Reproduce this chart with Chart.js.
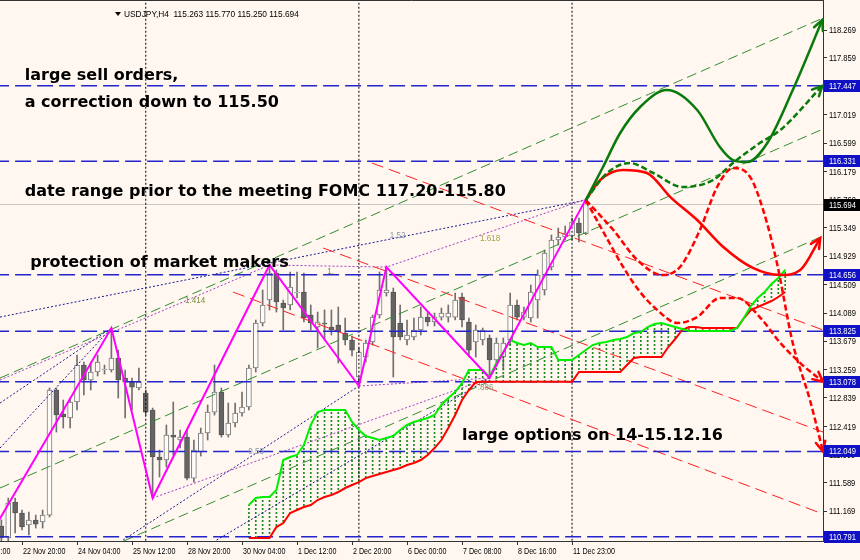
<!DOCTYPE html>
<html>
<head>
<meta charset="utf-8">
<script src="https://cdn.jsdelivr.net/npm/chart.js@4.4.0/dist/chart.umd.min.js"></script>
<style>
  html, body { margin: 0; padding: 0; background: #fff7f0; }
  #wrap { width: 860px; height: 560px; }
</style>
</head>
<body>
<div id="wrap"><canvas id="chart" width="860" height="560"></canvas></div>
<script>
// H4 candles, bar index 0 .. 85 (last bar = 115.263 115.770 115.250 115.694)
const candleOpen = [110.949, 110.772, 111.303, 111.141, 110.964, 111.038, 111.008, 111.111, 112.956, 112.602,
  112.543, 112.779, 113.325, 113.104, 113.222, 113.251, 113.251, 113.428, 113.133, 113.074,
  112.986, 112.912, 112.661, 111.967, 111.923, 112.292, 112.218, 112.262, 111.657, 112.041,
  112.322, 112.631, 112.927, 112.292, 112.469, 112.617, 112.705, 113.281, 113.945, 114.284,
  114.683, 114.240, 114.211, 114.388, 114.402, 114.063, 113.886, 113.945, 113.886, 113.915,
  113.797, 113.694, 113.148, 113.443, 113.665, 114.063, 114.388, 114.402, 113.945, 113.694,
  113.738, 113.842, 114.033, 113.960, 114.033, 114.033, 114.033, 114.329, 113.960, 113.665,
  113.694, 113.724, 113.399, 113.443, 113.694, 114.211, 114.033, 114.019, 114.284, 114.432,
  114.771, 115.170, 115.214, 115.229, 115.421, 115.263];
const candleHigh = [111.038, 111.362, 111.362, 111.185, 111.156, 111.111, 111.185, 112.986, 112.986, 112.809,
  112.838, 113.473, 113.369, 113.369, 113.473, 113.325, 113.871, 113.546, 113.251, 113.133,
  113.281, 112.956, 112.690, 112.071, 112.440, 112.779, 112.366, 112.366, 112.218, 112.395,
  112.735, 113.325, 112.986, 112.764, 112.764, 112.927, 113.325, 113.989, 114.432, 114.801,
  114.727, 114.284, 114.698, 114.698, 114.683, 114.211, 114.107, 114.137, 114.137, 114.181,
  114.019, 113.753, 113.576, 113.694, 114.063, 114.698, 114.771, 114.461, 114.211, 113.989,
  114.019, 114.181, 114.107, 114.092, 114.166, 114.211, 114.388, 114.388, 114.019, 113.915,
  113.871, 113.768, 113.724, 113.724, 114.388, 114.284, 114.181, 114.506, 114.727, 115.022,
  115.244, 115.347, 115.376, 115.494, 115.494, 115.770];
const candleLow = [110.669, 110.713, 110.846, 110.890, 110.816, 110.919, 110.919, 111.082, 112.336, 112.395,
  112.395, 112.661, 112.882, 112.956, 113.163, 113.192, 113.222, 112.838, 112.543, 112.661,
  112.956, 112.587, 111.362, 111.672, 111.820, 111.997, 112.100, 111.628, 111.598, 111.982,
  112.218, 112.587, 112.262, 112.262, 112.410, 112.572, 112.661, 113.222, 113.901, 114.137,
  114.107, 113.842, 114.137, 114.314, 113.960, 113.842, 113.576, 113.694, 113.768, 113.355,
  113.620, 113.458, 113.015, 113.369, 113.620, 114.019, 114.343, 113.148, 113.694, 113.620,
  113.694, 113.768, 113.901, 113.901, 113.989, 113.960, 113.989, 113.886, 113.443, 113.443,
  113.620, 113.133, 113.325, 113.251, 113.620, 113.989, 113.989, 113.960, 114.019, 114.358,
  114.727, 115.096, 115.170, 115.170, 115.140, 115.250];
const candleClose = [110.772, 111.288, 111.141, 110.934, 111.038, 110.978, 111.111, 112.956, 112.587, 112.558,
  112.779, 113.325, 113.104, 113.222, 113.369, 113.266, 113.428, 113.104, 113.074, 113.000,
  113.074, 112.631, 111.967, 111.923, 112.292, 112.262, 112.262, 111.657, 112.071, 112.322,
  112.631, 112.927, 112.292, 112.469, 112.617, 112.705, 113.281, 113.945, 114.211, 114.683,
  114.255, 114.166, 114.476, 114.402, 114.019, 113.945, 113.960, 113.930, 113.842, 113.812,
  113.694, 113.546, 113.517, 113.650, 114.033, 114.432, 114.432, 113.738, 113.738, 113.768,
  113.842, 114.033, 113.960, 114.033, 114.092, 114.092, 114.284, 113.989, 113.546, 113.842,
  113.842, 113.399, 113.650, 113.650, 114.211, 114.033, 114.107, 114.402, 114.653, 114.978,
  115.170, 115.214, 115.273, 115.435, 115.273, 115.694];

// time axis (bar index of each label)
const timeTickIdx = [-5, 3, 11, 19, 27, 35, 43, 51, 59, 67, 75, 83];
const timeTickLabels = ['21 Nov 12:00', '22 Nov 20:00', '24 Nov 04:00', '25 Nov 12:00', '28 Nov 20:00',
  '30 Nov 04:00', '1 Dec 12:00', '2 Dec 20:00', '6 Dec 00:00', '7 Dec 08:00', '8 Dec 16:00', '11 Dec 23:00'];
const separatorIdx = [21, 52, 83];

// price axis
const priceTicks = [118.269, 117.859, 117.439, 117.019, 116.599, 116.179, 115.769, 115.349, 114.929,
  114.509, 114.089, 113.679, 113.259, 112.839, 112.419, 111.999, 111.589, 111.169, 110.749];
const levelPrices = [117.447, 116.331, 114.656, 113.825, 113.078, 112.049, 110.791];
const lastPrice = 115.694;

// zigzag
const zigzagIdx = [-1, 16, 22, 39, 52, 56, 71, 85];
const zigzagPrice = [110.920, 113.871, 111.362, 114.801, 113.015, 114.771, 113.133, 115.770];

// ichimoku cloud, shifted forward
const cloudIdx = [36, 37, 38, 39, 40, 41, 42, 43, 44, 45, 46, 47, 48, 49, 50, 51, 52, 53, 54, 55,
  56, 57, 58, 59, 60, 61, 62, 63, 64, 65, 66, 67, 68, 69, 70, 71, 72, 73, 74, 75,
  76, 77, 78, 79, 80, 81, 82, 83, 84, 85, 86, 87, 88, 89, 90, 91, 92, 93, 94, 95,
  96, 97, 98, 99, 100, 101, 102, 103, 104, 105, 106, 107, 108, 109, 110, 111, 112, 113, 114];
const spanA = [111.259, 111.362, 111.377, 111.377, 111.480, 111.923, 111.967, 111.997, 112.144, 112.440,
  112.631, 112.661, 112.661, 112.661, 112.661, 112.484, 112.366, 112.277, 112.248, 112.218,
  112.248, 112.277, 112.366, 112.440, 112.484, 112.513, 112.543, 112.587, 112.735, 112.838,
  112.927, 113.059, 113.251, 113.251, 113.251, 113.148, 113.355, 113.517, 113.694, 113.650,
  113.620, 113.650, 113.591, 113.591, 113.591, 113.399, 113.399, 113.399, 113.473, 113.546,
  113.620, 113.650, 113.665, 113.694, 113.709, 113.738, 113.797, 113.812, 113.886, 113.930,
  113.945, 113.915, 113.886, 113.856, 113.827, 113.827, 113.827, 113.827, 113.827, 113.827,
  113.827, 113.871, 114.019, 114.196, 114.314, 114.402, 114.520, 114.609, 114.727];
const spanB = [110.772, 110.772, 110.772, 110.772, 110.934, 110.993, 111.141, 111.185, 111.229, 111.259,
  111.333, 111.377, 111.406, 111.451, 111.510, 111.554, 111.598, 111.657, 111.687, 111.716,
  111.746, 111.775, 111.805, 111.849, 111.879, 111.923, 111.997, 112.100, 112.218, 112.395,
  112.587, 112.809, 112.956, 113.074, 113.078, 113.078, 113.078, 113.078, 113.078, 113.078,
  113.078, 113.078, 113.078, 113.078, 113.078, 113.078, 113.078, 113.078, 113.222, 113.222,
  113.222, 113.222, 113.222, 113.222, 113.222, 113.325, 113.428, 113.443, 113.443, 113.443,
  113.443, 113.591, 113.709, 113.842, 113.886, 113.886, 113.871, 113.871, 113.871, 113.871,
  113.871, 113.871, 114.019, 114.137, 114.181, 114.225, 114.270, 114.329, 114.402];

// trend channels: [start idx, end idx], [start price, end price]
const greenChanIdx = [[-0.2, 119.5], [-0.2, 119.5], [-0.2, 119.5]];
const greenChanPrice = [[113.133, 118.446], [111.510, 116.808], [109.931, 115.229]];
const redChanIdx = [[53.9, 119.5], [46.8, 119.5], [33.7, 119.5]];
const redChanPrice = [[116.306, 113.842], [115.052, 112.336], [114.402, 111.126]];
const fibPurpleIdx = [[-0.2, 39, 56, 85], [22, 71], [52, 71]];
const fibPurplePrice = [[113.104, 114.801, 114.771, 115.770], [111.362, 113.133], [113.015, 113.133]];
const fibNavyIdx = [[-0.2, 85], [-0.2, 16], [-0.2, 16], [17.7, 52], [31.3, 71]];
const fibNavyPrice = [[114.033, 115.760], [112.764, 113.871], [112.100, 113.871], [110.742, 113.015], [110.742, 113.133]];

// forecast paths
const upSolidIdx = [85, 87.5, 90.0, 92.9, 96.8, 101.2, 104.5, 106.4, 108.5, 111.4, 115.1, 119.4];
const upSolidPrice = [115.760, 116.247, 116.749, 117.133, 117.383, 117.088, 116.542, 116.350, 116.321, 116.601, 117.383, 118.417];
const upDashIdx = [85, 88.1, 91.4, 94.8, 99.1, 103.5, 106.4, 110.3, 113.3, 119.4];
const upDashPrice = [115.760, 116.159, 116.306, 116.159, 115.952, 116.055, 116.306, 116.601, 116.793, 117.447];
const downSolidIdx = [85, 87.1, 90.4, 93.9, 97.3, 101.2, 105.0, 109.3, 113.3, 116.2, 119.1];
const downSolidPrice = [115.760, 116.055, 116.203, 116.159, 115.804, 115.465, 115.066, 114.757, 114.653, 114.727, 115.199];
const downDashAIdx = [85, 87.8, 90.7, 92.9, 95.4, 98.3, 101.2, 104.5, 107.0, 110.3, 113.3, 116.2, 119.5];
const downDashAPrice = [115.760, 115.244, 114.727, 114.402, 114.137, 113.945, 114.033, 114.314, 114.314, 114.033, 113.650, 113.354, 113.078];
const downDashBIdx = [85, 89.0, 92.5, 96.2, 98.7, 101.6, 104.1, 106.4, 108.9, 110.8, 112.8, 115.1, 117.6, 119.5];
const downDashBPrice = [115.760, 115.317, 114.874, 114.653, 114.771, 115.317, 115.952, 116.232, 116.100, 115.612, 114.830, 113.650, 112.809, 112.049];

// chart notes
const noteText = ['large sell orders,', 'a correction down to 115.50',
  'date range prior to the meeting FOMC 117.20-115.80', 'protection of market makers', 'large options on 14-15.12.16'];
const noteIdx = [3.4, 3.4, 3.4, 4.2, 67.0];
const notePrice = [117.590, 117.192, 115.878, 114.830, 112.277];
const fibText = ['1.414', '1.', '1.52', '1.618', '.886', '0.53'];
const fibIdx = [26.7, 47.4, 56.5, 69.6, 69.3, 35.9];
const fibPrice = [114.284, 114.712, 115.244, 115.199, 113.000, 112.056];
const fibColors = ['#7b8a3a', '#7b8a3a', '#8a98a8', '#a8a24a', '#8a9a7a', '#8a98a8'];

const priceMin = 110.728, priceMax = 118.712;
const idxMin = -0.2, idxMax = 119.5;
const axisFont = '9.5px "Liberation Sans", Arial, sans-serif';

const canvas = document.getElementById('chart');
const ctx = canvas.getContext('2d');

function dotPattern(color) {
  const c = document.createElement('canvas');
  c.width = 1; c.height = 4;
  const g = c.getContext('2d');
  g.fillStyle = color;
  g.fillRect(0, 0, 1, 2);
  return ctx.createPattern(c, 'repeat');
}

function lineSet(xs, ys, color, width, dash, order) {
  return {
    type: 'line',
    data: xs.map((x, i) => ({ x: x, y: ys[i] })),
    borderColor: color,
    borderWidth: width,
    borderDash: dash,
    pointRadius: 0,
    tension: 0,
    fill: false,
    order: order
  };
}

function curveSet(xs, ys, color, dash) {
  const ds = lineSet(xs, ys, color, 2.5, dash, 1);
  ds.cubicInterpolationMode = 'monotone';
  ds.arrowHead = true;
  return ds;
}

// squeezed text, close to the narrow terminal font
function narrowText(c, text, x, y, squeeze) {
  c.save();
  c.translate(x, y);
  c.scale(squeeze, 1);
  c.fillText(text, 0, 0);
  c.restore();
}

const datasets = [];

// candles
datasets.push({
  type: 'bar',
  data: candleOpen.map((o, i) => ({ x: i, y: [candleLow[i], candleHigh[i]] })),
  backgroundColor: '#707070',
  barThickness: 1,
  grouped: false,
  order: 21
});
datasets.push({
  type: 'bar',
  data: candleOpen.map((o, i) => ({ x: i, y: [o, candleClose[i]] })),
  backgroundColor: candleOpen.map((o, i) => candleClose[i] >= o ? '#fffcf8' : '#646464'),
  borderColor: candleOpen.map((o, i) => candleClose[i] >= o ? '#7a7a7a' : '#555555'),
  borderWidth: 1,
  borderSkipped: false,
  barThickness: 5,
  grouped: false,
  order: 20
});

// cloud hatching + spans
const greenDots = dotPattern('#1a8a1a');
const redDots = dotPattern('#d03030');
datasets.push({
  type: 'bar',
  data: cloudIdx.map((x, i) => ({ x: x, y: [spanB[i], spanA[i]] })),
  backgroundColor: cloudIdx.map((x, i) => spanA[i] >= spanB[i] ? greenDots : redDots),
  barThickness: 1,
  grouped: false,
  order: 15
});
datasets.push(lineSet(cloudIdx, spanA, '#00ee00', 2, [], 6));
datasets.push(lineSet(cloudIdx, spanB, '#ff0000', 2, [], 6));

// period separators
separatorIdx.forEach(s => {
  datasets.push(lineSet([s, s], [priceMin - 1, priceMax + 1], '#000000', 1, [2, 2], 12));
});

// levels
levelPrices.forEach(v => {
  datasets.push(lineSet([idxMin - 1, idxMax + 1], [v, v], '#2424cc', 1.5, [16, 6], 8));
});
datasets.push(lineSet([idxMin - 1, idxMax + 1], [lastPrice, lastPrice], '#c8c8c8', 1, [], 13));

// channels and fib lines
greenChanIdx.forEach((xs, k) => datasets.push(lineSet(xs, greenChanPrice[k], '#2f8f2f', 1, [10, 5], 10)));
redChanIdx.forEach((xs, k) => datasets.push(lineSet(xs, redChanPrice[k], '#ff2020', 1, [12, 6], 10)));
fibPurpleIdx.forEach((xs, k) => datasets.push(lineSet(xs, fibPurplePrice[k], '#a040c0', 1, [2, 2], 11)));
fibNavyIdx.forEach((xs, k) => datasets.push(lineSet(xs, fibNavyPrice[k], '#1a1a90', 1, [2, 2], 11)));

// zigzag
datasets.push(lineSet(zigzagIdx, zigzagPrice, '#ff00ff', 2, [], 4));

// forecasts
datasets.push(curveSet(upSolidIdx, upSolidPrice, '#0a7a0a', []));
datasets.push(curveSet(upDashIdx, upDashPrice, '#0a7a0a', [6, 3]));
datasets.push(curveSet(downSolidIdx, downSolidPrice, '#ff0000', []));
datasets.push(curveSet(downDashAIdx, downDashAPrice, '#ff0000', [6, 3]));
datasets.push(curveSet(downDashBIdx, downDashBPrice, '#ff0000', [6, 3]));

const backdrop = {
  id: 'backdrop',
  beforeDraw(chart) {
    const c = chart.ctx;
    c.save();
    c.fillStyle = '#fff7f0';
    c.fillRect(0, 0, chart.width, chart.height);
    c.restore();
  }
};

const arrowHeads = {
  id: 'arrowHeads',
  afterDatasetsDraw(chart) {
    const c = chart.ctx;
    chart.data.datasets.forEach((ds, i) => {
      if (!ds.arrowHead) return;
      const pts = chart.getDatasetMeta(i).data;
      const end = pts[pts.length - 1];
      let dx = end.x - (end.cp1x !== undefined ? end.cp1x : pts[pts.length - 2].x);
      let dy = end.y - (end.cp1y !== undefined ? end.cp1y : pts[pts.length - 2].y);
      if (Math.abs(dx) + Math.abs(dy) < 0.01) {
        dx = end.x - pts[pts.length - 2].x;
        dy = end.y - pts[pts.length - 2].y;
      }
      const a = Math.atan2(dy, dx);
      const len = 11, spread = 0.45;
      c.save();
      c.strokeStyle = ds.borderColor;
      c.lineWidth = 2.5;
      c.lineCap = 'round';
      c.beginPath();
      c.moveTo(end.x - len * Math.cos(a - spread), end.y - len * Math.sin(a - spread));
      c.lineTo(end.x, end.y);
      c.lineTo(end.x - len * Math.cos(a + spread), end.y - len * Math.sin(a + spread));
      c.stroke();
      c.restore();
    });
  }
};

const notes = {
  id: 'notes',
  afterDatasetsDraw(chart) {
    const c = chart.ctx;
    const xs = chart.scales.x, ys = chart.scales.y;
    c.save();
    c.textAlign = 'left';
    c.textBaseline = 'middle';
    c.fillStyle = '#000000';
    c.font = 'bold 16px "DejaVu Sans", sans-serif';
    noteText.forEach((t, i) => {
      c.fillText(t, xs.getPixelForValue(noteIdx[i]), ys.getPixelForValue(notePrice[i]));
    });
    c.font = axisFont;
    fibText.forEach((t, i) => {
      c.fillStyle = fibColors[i];
      narrowText(c, t, xs.getPixelForValue(fibIdx[i]), ys.getPixelForValue(fibPrice[i]), 0.85);
    });
    c.restore();
  }
};

const axisText = {
  id: 'axisText',
  afterDraw(chart) {
    const c = chart.ctx;
    const xs = chart.scales.x, ys = chart.scales.y;
    const area = chart.chartArea;
    c.save();
    // frame top edge
    c.strokeStyle = '#333333';
    c.lineWidth = 1;
    c.beginPath();
    c.moveTo(0, area.top + 0.5);
    c.lineTo(area.right, area.top + 0.5);
    c.stroke();

    c.font = axisFont;
    c.textBaseline = 'middle';
    c.textAlign = 'left';
    c.fillStyle = '#000000';
    timeTickIdx.forEach((v, i) => {
      narrowText(c, timeTickLabels[i], xs.getPixelForValue(v) + 1, area.bottom + 10.5, 0.75);
    });
    priceTicks.forEach(v => {
      narrowText(c, v.toFixed(3), area.right + 6, ys.getPixelForValue(v) + 0.5, 0.8);
    });

    const left = area.right + 1;
    const box = (v, bg) => {
      const y = Math.round(ys.getPixelForValue(v));
      c.fillStyle = bg;
      c.fillRect(left, y - 6, chart.width - left, 12);
      c.fillStyle = '#ffffff';
      narrowText(c, v.toFixed(3), left + 5, y + 0.5, 0.8);
    };
    levelPrices.forEach(v => box(v, '#1010c4'));
    box(lastPrice, '#000000');

    // symbol header
    const hx = 115, hy = 14;
    c.fillStyle = '#000000';
    c.beginPath();
    c.moveTo(hx, hy - 2); c.lineTo(hx + 6, hy - 2); c.lineTo(hx + 3, hy + 2); c.closePath();
    c.fill();
    c.font = '9.5px "Liberation Sans", Arial, sans-serif';
    const head = 'USDJPY,H4  ' + [candleOpen[85], candleHigh[85], candleLow[85], candleClose[85]].map(v => v.toFixed(3)).join(' ');
    narrowText(c, head, hx + 9, hy, 0.88);
    c.restore();
  }
};

new Chart(ctx, {
  type: 'bar',
  data: { datasets: datasets },
  options: {
    responsive: false,
    animation: false,
    events: [],
    layout: { padding: 0 },
    plugins: {
      legend: { display: false },
      tooltip: { enabled: false },
      title: { display: false }
    },
    scales: {
      x: {
        type: 'linear',
        min: idxMin,
        max: idxMax,
        offset: false,
        afterBuildTicks: s => { s.ticks = timeTickIdx.map(v => ({ value: v })); },
        afterFit: s => { s.height = 19; s.paddingLeft = 0; s.paddingRight = 0; },
        ticks: { display: false, autoSkip: false, maxRotation: 0 },
        grid: { drawOnChartArea: false, drawTicks: true, tickLength: 4, color: '#333333', offset: false },
        border: { color: '#333333' }
      },
      y: {
        type: 'linear',
        position: 'right',
        min: priceMin,
        max: priceMax,
        afterBuildTicks: s => { s.ticks = priceTicks.map(v => ({ value: v })); },
        afterFit: s => { s.width = 37; s.paddingTop = 0; s.paddingBottom = 0; },
        ticks: { display: false, autoSkip: false },
        grid: { drawOnChartArea: false, drawTicks: true, tickLength: 4, color: '#333333' },
        border: { color: '#333333' }
      }
    }
  },
  plugins: [backdrop, arrowHeads, notes, axisText]
});
</script>
</body>
</html>
